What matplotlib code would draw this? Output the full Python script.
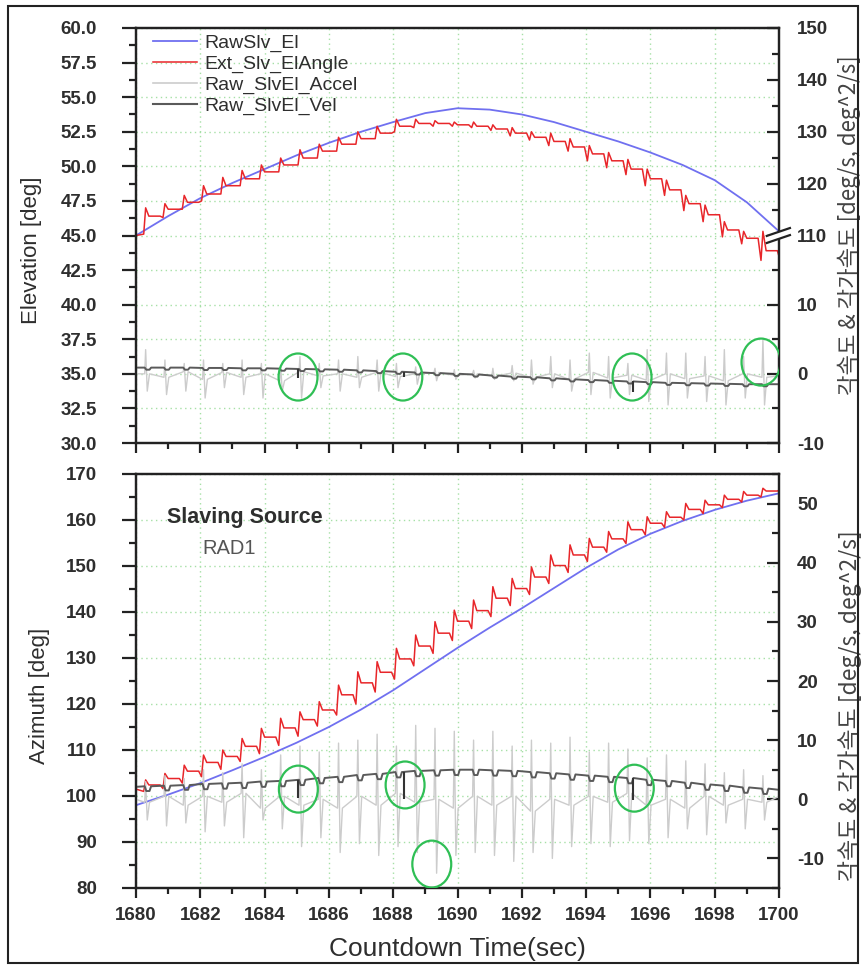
import numpy as np
import matplotlib
matplotlib.use('Agg')
import matplotlib.pyplot as plt
from matplotlib.patches import Ellipse, Rectangle, Polygon
from matplotlib.ticker import MultipleLocator, FixedLocator, FormatStrFormatter
from matplotlib.lines import Line2D

plt.rcParams['font.family'] = ['Liberation Sans', 'DejaVu Sans']
plt.rcParams['axes.unicode_minus'] = False

# ---- data ----
sec = [1680, 1681, 1682, 1683, 1684, 1685, 1686, 1687, 1688, 1689, 1690,
       1691, 1692, 1693, 1694, 1695, 1696, 1697, 1698, 1699, 1700]
el_raw = [45.0, 46.4, 47.7, 48.8, 49.8, 50.8, 51.7, 52.5, 53.2, 53.85, 54.2,
          54.1, 53.75, 53.2, 52.5, 51.8, 51.0, 50.1, 49.0, 47.4, 45.3]
az_raw = [98.0, 100.3, 102.8, 105.6, 108.5, 111.6, 115.0, 118.8, 123.0, 127.6, 132.2,
          136.6, 140.8, 145.2, 149.6, 153.6, 157.0, 159.8, 162.2, 164.2, 165.8]

# slaving update cycles (s)
cyc_t = [1680.3, 1680.9, 1681.5, 1682.1, 1682.7, 1683.3, 1683.9, 1684.5, 1685.1, 1685.7,
         1686.3, 1686.9, 1687.5, 1688.1, 1688.7, 1689.3, 1689.9, 1690.5, 1691.1, 1691.7,
         1692.3, 1692.9, 1693.5, 1694.1, 1694.7, 1695.3, 1695.9, 1696.5, 1697.1, 1697.7,
         1698.3, 1698.9, 1699.5]

# Ext_Slv_ElAngle: trough before update, peak at update, plateau after
el_ext_low = [45.1, 46.3, 46.9, 47.5, 48.0, 48.6, 49.1, 49.6, 50.1, 50.6, 51.1, 51.6, 52.0,
              52.5, 52.8, 52.9, 52.9, 52.8, 52.6, 52.2, 51.9, 51.5, 51.1, 50.4, 49.9, 49.4,
              48.6, 47.9, 46.8, 46.0, 44.9, 44.4, 43.2]
el_ext_peak = [47.0, 47.3, 47.9, 48.6, 49.2, 49.7, 50.1, 50.6, 51.2, 51.6, 52.1, 52.5, 52.9,
               53.4, 53.4, 53.3, 53.2, 53.2, 53.0, 52.8, 52.5, 52.4, 52.0, 51.5, 51.0, 50.5,
               49.8, 49.0, 47.9, 47.2, 46.0, 45.3, 45.3]
el_ext_flat = [46.4, 46.9, 47.4, 48.0, 48.6, 49.1, 49.6, 50.1, 50.6, 51.1, 51.6, 52.0, 52.4,
               52.9, 53.1, 53.1, 53.0, 52.9, 52.7, 52.4, 52.1, 51.8, 51.4, 50.9, 50.4, 49.8,
               49.1, 48.3, 47.3, 46.5, 45.4, 44.8, 43.9]
el_ext_ends = [45.0, 43.5]

az_ext_low = [101.0, 101.6, 102.8, 104.2, 105.8, 107.5, 109.2, 111.0, 113.0, 115.2, 117.6,
              120.0, 122.6, 125.4, 128.3, 131.0, 133.8, 136.4, 139.0, 141.4, 143.8, 146.2,
              148.6, 151.0, 153.0, 154.9, 156.8, 158.4, 160.0, 161.4, 162.7, 163.9, 165.0]
az_ext_peak = [103.5, 104.9, 106.7, 108.9, 110.0, 112.5, 114.7, 116.9, 118.3, 120.5, 124.1,
               127.0, 129.2, 132.1, 135.0, 137.9, 140.4, 142.6, 145.5, 147.3, 149.8, 152.4,
               154.6, 156.0, 157.5, 159.6, 160.7, 161.8, 163.6, 164.3, 165.4, 166.2, 166.9]
az_ext_flat = [102.4, 103.8, 105.4, 107.3, 108.6, 110.8, 112.8, 114.8, 116.6, 118.7, 122.0,
               124.6, 126.9, 129.8, 132.6, 135.4, 138.0, 140.3, 143.0, 145.1, 147.6, 150.1,
               152.4, 154.1, 155.9, 157.9, 159.3, 160.6, 162.3, 163.3, 164.5, 165.4, 166.3]
az_ext_ends = [101.5, 166.5]

# accelerations (deg^2/s): base level, positive and negative spike per cycle
el_acc_base = [0.0, -0.5, 0.3, -0.8, 0.2, -0.5, 0.0, -1.0, 0.3, -0.3, 0.0, -0.5, 0.2, -0.4,
               0.0, 0.2, -0.2, 0.0, -0.3, 0.1, -0.5, 0.0, -0.8, 0.2, -0.6, -0.2, -0.9, 0.0,
               -0.7, -0.3, -1.0, 0.0, -0.5]
el_acc_up = [3.5, 2.0, 1.5, 2.0, 1.5, 2.0, 1.5, 1.0, 2.5, 1.5, 2.0, 2.5, 2.0, 1.5, 1.0, 0.8,
             0.6, 0.5, 0.8, 1.2, 2.0, 2.5, 2.0, 3.0, 2.5, 1.5, 3.5, 3.0, 3.0, 2.5, 3.5, 2.5, 5.0]
el_acc_dn = [-2.5, -3.0, -2.5, -3.5, -2.0, -3.0, -3.5, -2.5, -3.5, -2.0, -2.5, -2.0, -2.5,
             -2.0, -1.5, -1.0, -0.8, -0.6, -0.8, -1.0, -1.5, -2.0, -2.5, -3.0, -3.5, -3.0,
             -4.0, -4.5, -3.5, -4.0, -4.5, -3.5, -4.5]
el_acc_ends = [0.0, -0.3]

az_acc_base = [-0.5, 0.5, -1.0, 0.5, -0.5, 1.0, -1.5, 0.5, -1.0, 0.0, -1.5, 0.5, -1.0, 1.0,
               -0.5, 0.0, -1.5, 0.5, -1.0, 0.5, -2.0, 0.0, -1.0, 0.5, -0.5, 1.0, -1.0, 0.0,
               -1.5, 0.5, -1.0, 0.0, -0.5]
az_acc_up = [3.0, 4.0, 3.5, 5.0, 4.5, 6.0, 5.0, 7.5, 9.0, 8.0, 9.5, 10.0, 11.0, 9.0, 12.5,
             12.0, 11.5, 10.0, 11.5, 9.0, 10.0, 9.5, 10.5, 8.0, 9.5, 8.5, 7.0, 7.5, 6.5, 6.0,
             4.5, 5.0, 4.0]
az_acc_dn = [-3.5, -4.5, -4.0, -5.5, -4.5, -6.5, -3.5, -5.0, -8.0, -6.5, -9.0, -7.5, -9.5,
             -8.0, -9.0, -12.5, -9.5, -9.0, -9.5, -10.5, -9.0, -10.0, -8.0, -7.5, -8.0, -7.0,
             -7.5, -6.5, -5.0, -6.0, -4.0, -5.0, -3.5]
az_acc_ends = [0.0, 0.5]

# velocities (deg/s): level and small notch per cycle
el_vel = [0.9, 0.9, 0.9, 0.85, 0.85, 0.8, 0.8, 0.75, 0.7, 0.65, 0.6, 0.5, 0.4, 0.3, 0.2, 0.1,
          0.0, -0.1, -0.25, -0.4, -0.5, -0.65, -0.8, -0.9, -1.0, -1.1, -1.2, -1.3, -1.35,
          -1.4, -1.45, -1.5, -1.5]
el_vel_notch = [0.6, 0.6, 0.6, 0.55, 0.55, 0.5, 0.5, 0.45, 0.4, 0.35, 0.3, 0.2, 0.1, 0.0,
                -0.1, -0.2, -0.3, -0.4, -0.55, -0.7, -0.8, -0.95, -1.1, -1.2, -1.3, -1.4,
                -1.5, -1.6, -1.65, -1.7, -1.75, -1.8, -1.8]
el_vel_ends = [0.9, -1.5]
az_vel = [2.2, 2.3, 2.4, 2.6, 2.7, 2.8, 3.0, 3.1, 3.3, 3.6, 3.8, 4.1, 4.3, 4.6, 4.8, 4.9, 5.0,
          5.0, 4.9, 4.8, 4.6, 4.4, 4.2, 4.0, 3.8, 3.6, 3.3, 3.1, 2.8, 2.5, 2.3, 2.0, 1.8]
az_vel_notch = [1.4, 1.5, 1.6, 1.7, 1.8, 1.9, 2.1, 2.2, 2.4, 2.7, 2.9, 3.2, 3.4, 3.7, 3.9, 4.0,
                4.1, 4.1, 4.0, 3.9, 3.7, 3.5, 3.3, 3.1, 2.9, 2.7, 2.4, 2.2, 1.9, 1.6, 1.4, 1.1,
                0.9]
az_vel_ends = [2.1, 1.6]

# velocity glitches (circled)
glitch_t = [1685.05, 1688.35, 1695.45]
el_glitch_hi = [0.7, 0.25, -1.1]
el_glitch_lo = [-0.6, -0.5, -2.6]
az_glitch_hi = [3.3, 4.6, 3.6]
az_glitch_lo = [0.2, 0.0, -0.1]

# green circle marks (time, value on left axis)
el_marks_t = [1685.04, 1688.3, 1695.43, 1699.44]
el_marks_v = [34.77, 34.77, 34.77, 35.85]
az_marks_t = [1685.05, 1688.37, 1689.2, 1695.5]
az_marks_v = [101.5, 102.4, 85.2, 101.7]


def sawtooth(low, peak, flat, ends):
    xs, ys = [sec[0]], [ends[0]]
    for t, r, p, q in zip(cyc_t, low, peak, flat):
        xs += [t - 0.06, t, t + 0.1, t + 0.45]
        ys += [r, p, q, q]
    xs.append(sec[-1]); ys.append(ends[1])
    return xs, ys


def spiky(base, up, dn, ends):
    xs, ys = [sec[0]], [ends[0]]
    for t, b, u, d in zip(cyc_t, base, up, dn):
        xs += [t - 0.03, t, t + 0.05, t + 0.12]
        ys += [b, u, d, b]
    xs.append(sec[-1]); ys.append(ends[1])
    return xs, ys


def notched(level, notch, ends):
    xs, ys = [sec[0]], [ends[0]]
    for t, v, n in zip(cyc_t, level, notch):
        xs += [t - 0.03, t + 0.02, t + 0.12, t + 0.17]
        ys += [v, n, n, v]
    xs.append(sec[-1]); ys.append(ends[1])
    return xs, ys


# broken right scale of the elevation panel: -10..15 and 110..150
def brk_fwd(v):
    return np.interp(v, [-1010, -10, 17.5, 110, 150, 550], [-470, 30, 43.75, 45, 60, 210])


def brk_inv(v):
    return np.interp(v, [-470, 30, 43.75, 45, 60, 210], [-1010, -10, 17.5, 110, 150, 550])


BLUE = '#7070f0'
RED = '#e8262a'
LGRAY = '#cccccc'
DGRAY = '#5a5a5a'
GRID = '#a6e0a6'
TXT = '#2e2e2e'
CIRC = '#2fbf55'
KOR_LABEL = '각속도 & 각가속도 [deg/s, deg^2/s]'

fig = plt.figure(figsize=(8.64, 9.65), dpi=100)
fig.patches.append(Rectangle((8 / 864, 2 / 965), 850 / 864, 957 / 965, transform=fig.transFigure,
                             fill=False, edgecolor='#222222', lw=1.5))

ax_el = fig.add_axes([136 / 864, 1 - 443 / 965, 643 / 864, 415 / 965])
ax_az = fig.add_axes([136 / 864, 1 - 888 / 965, 643 / 864, 414 / 965])
ax_el2 = ax_el.twinx()
ax_az2 = ax_az.twinx()


def style(ax, ax2):
    ax.set_xlim(1680, 1700)
    ax.xaxis.set_major_locator(MultipleLocator(2))
    ax.xaxis.set_minor_locator(MultipleLocator(1))
    ax.grid(which='major', color=GRID, linestyle=(0, (1, 2.5)), lw=1.0)
    for a in (ax, ax2):
        for s in a.spines.values():
            s.set_linewidth(1.6)
            s.set_color('#222222')
    ax.tick_params(axis='y', which='major', direction='out', length=10, width=1.6, pad=18,
                   labelsize=13.5, labelcolor=TXT, color='#222222')
    ax.tick_params(axis='y', which='minor', direction='out', length=5, width=1.6, color='#222222')
    ax.tick_params(axis='x', which='major', direction='out', length=7, width=1.6, pad=7,
                   labelsize=13.5, labelcolor=TXT, color='#222222')
    ax.tick_params(axis='x', which='minor', direction='out', length=4.5, width=1.6, color='#222222')
    ax2.tick_params(axis='y', which='major', direction='in', length=9, width=1.6, pad=13,
                    labelsize=13.5, labelcolor=TXT, color='#222222')
    ax2.tick_params(axis='y', which='minor', direction='in', length=5, width=1.6, color='#222222')
    for lab in ax.get_xticklabels() + ax.get_yticklabels() + ax2.get_yticklabels():
        lab.set_fontweight('bold')


# ---- elevation panel ----
ax_el.plot(sec, el_raw, color=BLUE, lw=1.3)
ax_el.plot(*sawtooth(el_ext_low, el_ext_peak, el_ext_flat, el_ext_ends), color=RED, lw=1.1)
ax_el2.set_yscale('function', functions=(brk_fwd, brk_inv))
ax_el2.plot(*spiky(el_acc_base, el_acc_up, el_acc_dn, el_acc_ends), color=LGRAY, lw=1.0)
ax_el2.plot(*notched(el_vel, el_vel_notch, el_vel_ends), color=DGRAY, lw=1.4)
ax_el2.vlines(glitch_t, el_glitch_lo, el_glitch_hi, color='#333333', lw=1.5)
ax_el.set_ylim(30, 60)
ax_el2.set_ylim(-10, 150)
ax_el.yaxis.set_major_locator(MultipleLocator(2.5))
ax_el.yaxis.set_minor_locator(MultipleLocator(1.25))
ax_el.yaxis.set_major_formatter(FormatStrFormatter('%.1f'))
ax_el2.yaxis.set_major_locator(FixedLocator([-10, 0, 10, 110, 120, 130, 140, 150]))
ax_el2.yaxis.set_minor_locator(FixedLocator([-5, 5, 15, 115, 125, 135, 145]))
ax_el2.yaxis.set_major_formatter(FormatStrFormatter('%d'))
style(ax_el, ax_el2)
ax_el.tick_params(axis='x', labelbottom=False)
for t, v in zip(el_marks_t, el_marks_v):
    e = Ellipse((t, v), 1.21, 3.4, fill=False, edgecolor=CIRC, lw=1.6, zorder=5)
    e.set_transform(ax_el.transData)
    ax_el2.add_artist(e)

# break marks on the right spine at 110
ax_el2.add_patch(Polygon([[0.981, 0.482], [1.017, 0.501], [1.017, 0.518], [0.981, 0.499]],
                         closed=True, transform=ax_el2.transAxes, facecolor='white',
                         edgecolor='none', clip_on=False, zorder=6))
for dy in (0.0, 0.017):
    ax_el2.plot([0.981, 1.017], [0.482 + dy, 0.501 + dy], transform=ax_el2.transAxes,
                color='#222222', lw=1.6, clip_on=False, zorder=7)

ax_el.set_ylabel('Elevation [deg]', fontsize=16, color=TXT)
ax_el.yaxis.set_label_coords(-0.146, 0.465)
ax_el2.set_ylabel(KOR_LABEL, fontsize=16, color='#444444',
                  family=['Noto Sans CJK KR', 'DejaVu Sans'])
ax_el2.yaxis.set_label_coords(1.092, 0.525)

handles = [Line2D([], [], color=BLUE, lw=1.3), Line2D([], [], color=RED, lw=1.1),
           Line2D([], [], color=LGRAY, lw=1.2), Line2D([], [], color=DGRAY, lw=1.5)]
names = ['RawSlv_El', 'Ext_Slv_ElAngle', 'Raw_SlvEl_Accel', 'Raw_SlvEl_Vel']
leg = ax_el2.legend(handles, names, loc='upper left', bbox_to_anchor=(17 / 643, 0.984),
                    frameon=False, fontsize=14, handlelength=2.25, handletextpad=0.4,
                    labelspacing=0.16, borderaxespad=0, borderpad=0)
for t in leg.get_texts():
    t.set_color(TXT)

# ---- azimuth panel ----
ax_az.plot(sec, az_raw, color=BLUE, lw=1.3)
ax_az.plot(*sawtooth(az_ext_low, az_ext_peak, az_ext_flat, az_ext_ends), color=RED, lw=1.1)
ax_az2.plot(*spiky(az_acc_base, az_acc_up, az_acc_dn, az_acc_ends), color=LGRAY, lw=1.0)
ax_az2.plot(*notched(az_vel, az_vel_notch, az_vel_ends), color=DGRAY, lw=1.4)
ax_az2.vlines(glitch_t, az_glitch_lo, az_glitch_hi, color='#333333', lw=1.5)
ax_az.set_ylim(80, 170)
ax_az2.set_ylim(-15, 55)
ax_az.yaxis.set_major_locator(MultipleLocator(10))
ax_az.yaxis.set_minor_locator(MultipleLocator(5))
ax_az2.yaxis.set_major_locator(FixedLocator([-10, 0, 10, 20, 30, 40, 50]))
ax_az2.yaxis.set_minor_locator(FixedLocator([-15, -5, 5, 15, 25, 35, 45, 55]))
style(ax_az, ax_az2)
for t, v in zip(az_marks_t, az_marks_v):
    e = Ellipse((t, v), 1.21, 10.2, fill=False, edgecolor=CIRC, lw=1.6, zorder=5)
    e.set_transform(ax_az.transData)
    ax_az2.add_artist(e)

ax_az.text(0.048, 0.896, 'Slaving Source', transform=ax_az.transAxes, fontsize=15.5,
           fontweight='bold', color=TXT, va='center')
ax_az.text(0.103, 0.819, 'RAD1', transform=ax_az.transAxes, fontsize=14.5, color='#555555',
           va='center')

ax_az.set_xlabel('Countdown Time(sec)', fontsize=19, color=TXT, labelpad=9)
ax_az.set_ylabel('Azimuth [deg]', fontsize=16, color=TXT)
ax_az.yaxis.set_label_coords(-0.134, 0.464)
ax_az2.set_ylabel(KOR_LABEL, fontsize=16.5, color='#444444',
                  family=['Noto Sans CJK KR', 'DejaVu Sans'])
ax_az2.yaxis.set_label_coords(1.092, 0.44)

fig.savefig('out.png', dpi=100)
